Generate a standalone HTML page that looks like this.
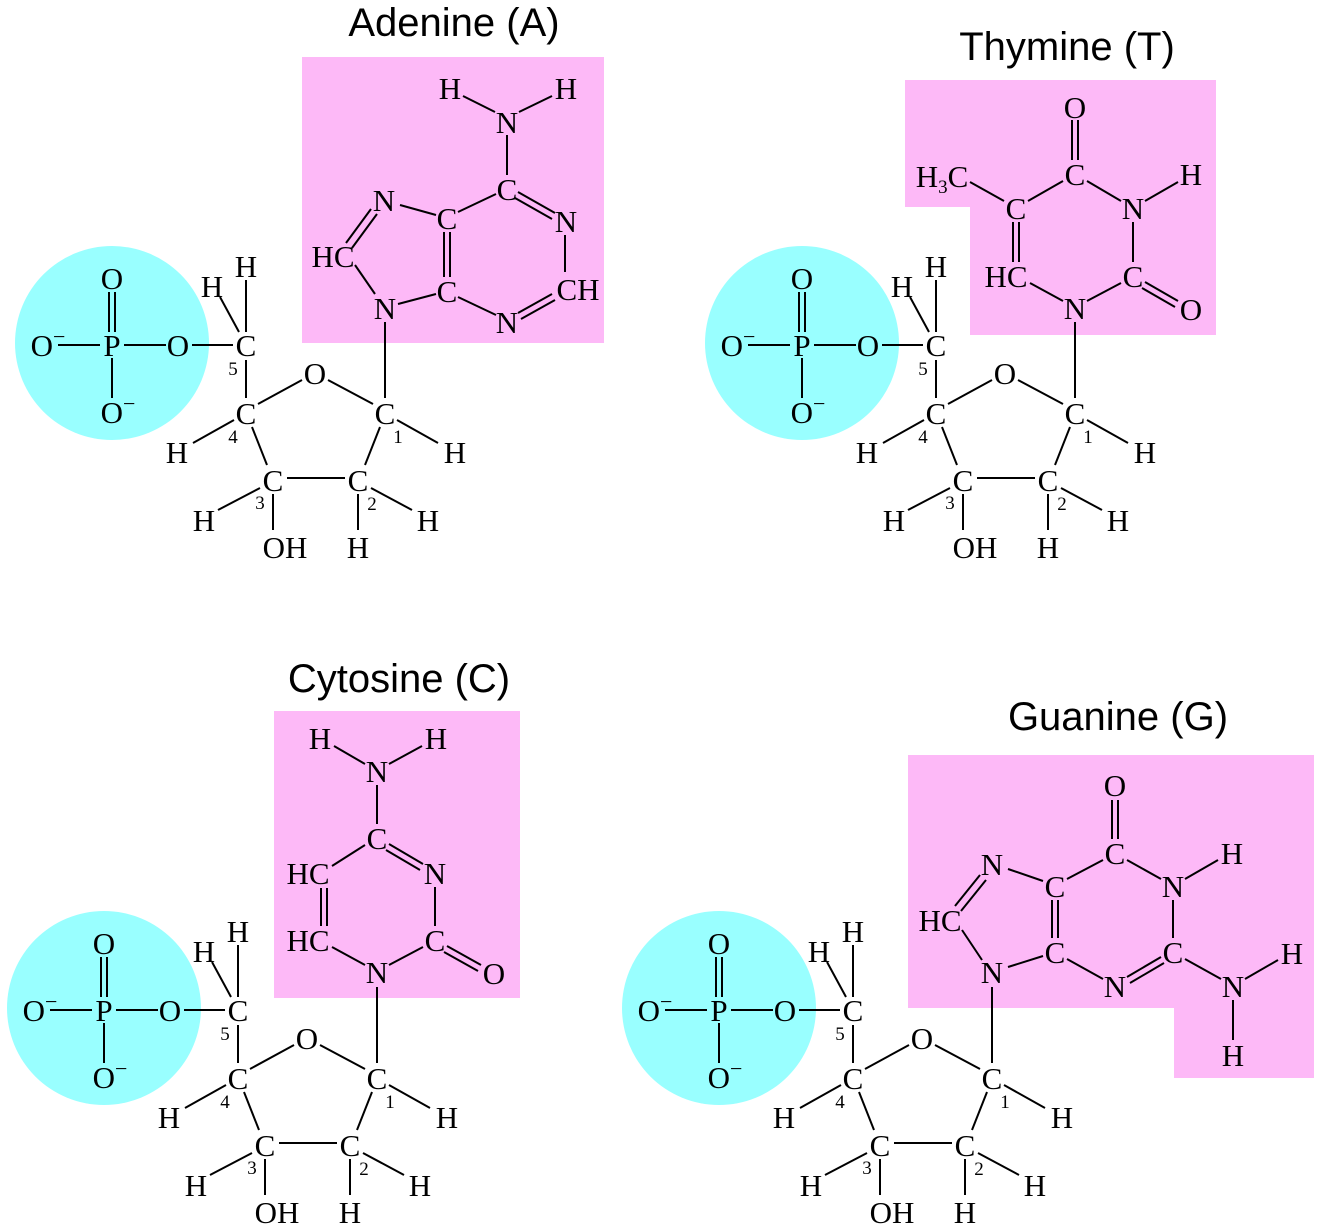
<!DOCTYPE html>
<html><head><meta charset="utf-8"><style>
html,body{margin:0;padding:0;background:#fff}
svg{display:block}
.a{font-family:"Liberation Serif",serif;font-size:31px;text-anchor:middle;fill:#000;transform:translateY(2px)}
.n{font-family:"Liberation Serif",serif;font-size:19px;text-anchor:middle;fill:#000;transform:translateY(1px)}
.t{font-family:"Liberation Sans",sans-serif;font-size:40px;text-anchor:middle;fill:#000}
line{stroke:#000;stroke-width:2}
</style></head><body>
<svg width="1320" height="1226" viewBox="0 0 1320 1226" xmlns="http://www.w3.org/2000/svg">
<rect x="302" y="57" width="302" height="286" fill="#fdb9f7"/>
<polygon points="905,80 1216,80 1216,335 970,335 970,207 905,207" fill="#fdb9f7"/>
<rect x="274" y="711" width="246" height="287" fill="#fdb9f7"/>
<polygon points="908,755 1314,755 1314,1078 1174,1078 1174,1008 908,1008" fill="#fdb9f7"/>

<text class="t" x="454" y="36">Adenine (A)</text>
<text class="t" x="1067" y="60">Thymine (T)</text>
<text class="t" x="399" y="692">Cytosine (C)</text>
<text class="t" x="1118" y="730">Guanine (G)</text>

<g>
<circle cx="112" cy="343" r="97" fill="#99ffff"/>
<line x1="58" y1="345" x2="100" y2="345"/><line x1="124" y1="345" x2="166" y2="345"/>
<line x1="109" y1="292" x2="109" y2="332"/><line x1="115" y1="292" x2="115" y2="332"/>
<line x1="112" y1="358" x2="112" y2="398"/><line x1="192" y1="345" x2="233" y2="345"/>
<line x1="246" y1="280" x2="246" y2="332"/><line x1="220" y1="297" x2="239" y2="332"/>
<line x1="246" y1="360" x2="246" y2="398"/><line x1="258" y1="404" x2="302" y2="380"/>
<line x1="328" y1="380" x2="373" y2="404"/><line x1="193" y1="443" x2="234" y2="420"/>
<line x1="252" y1="427" x2="267" y2="465"/><line x1="380" y1="427" x2="365" y2="465"/>
<line x1="397" y1="420" x2="438" y2="443"/><line x1="287" y1="478" x2="345" y2="478"/>
<line x1="218" y1="510" x2="260" y2="488"/><line x1="273" y1="494" x2="273" y2="530"/>
<line x1="371" y1="488" x2="412" y2="510"/><line x1="358" y1="494" x2="358" y2="530"/>
<text class="a" x="48" y="354">O<tspan font-size="22" dy="-12">−</tspan></text>
<text class="a" x="112" y="354">P</text><text class="a" x="178" y="354">O</text>
<text class="a" x="112" y="287">O</text>
<text class="a" x="118" y="421">O<tspan font-size="22" dy="-12">−</tspan></text>
<text class="a" x="246" y="354">C</text><text class="n" x="233" y="374">5</text>
<text class="a" x="246" y="275">H</text><text class="a" x="212" y="295">H</text>
<text class="a" x="315" y="382">O</text>
<text class="a" x="246" y="422">C</text><text class="n" x="233" y="442">4</text>
<text class="a" x="177" y="461">H</text>
<text class="a" x="385" y="422">C</text><text class="n" x="398" y="442">1</text>
<text class="a" x="455" y="461">H</text>
<text class="a" x="273" y="489">C</text><text class="n" x="260" y="508">3</text>
<text class="a" x="204" y="529">H</text><text class="a" x="285" y="556">OH</text>
<text class="a" x="358" y="489">C</text><text class="n" x="372" y="509">2</text>
<text class="a" x="428" y="529">H</text><text class="a" x="358" y="556">H</text>
</g>
<g transform="translate(690,0)">
<circle cx="112" cy="343" r="97" fill="#99ffff"/>
<line x1="58" y1="345" x2="100" y2="345"/><line x1="124" y1="345" x2="166" y2="345"/>
<line x1="109" y1="292" x2="109" y2="332"/><line x1="115" y1="292" x2="115" y2="332"/>
<line x1="112" y1="358" x2="112" y2="398"/><line x1="192" y1="345" x2="233" y2="345"/>
<line x1="246" y1="280" x2="246" y2="332"/><line x1="220" y1="297" x2="239" y2="332"/>
<line x1="246" y1="360" x2="246" y2="398"/><line x1="258" y1="404" x2="302" y2="380"/>
<line x1="328" y1="380" x2="373" y2="404"/><line x1="193" y1="443" x2="234" y2="420"/>
<line x1="252" y1="427" x2="267" y2="465"/><line x1="380" y1="427" x2="365" y2="465"/>
<line x1="397" y1="420" x2="438" y2="443"/><line x1="287" y1="478" x2="345" y2="478"/>
<line x1="218" y1="510" x2="260" y2="488"/><line x1="273" y1="494" x2="273" y2="530"/>
<line x1="371" y1="488" x2="412" y2="510"/><line x1="358" y1="494" x2="358" y2="530"/>
<text class="a" x="48" y="354">O<tspan font-size="22" dy="-12">−</tspan></text>
<text class="a" x="112" y="354">P</text><text class="a" x="178" y="354">O</text>
<text class="a" x="112" y="287">O</text>
<text class="a" x="118" y="421">O<tspan font-size="22" dy="-12">−</tspan></text>
<text class="a" x="246" y="354">C</text><text class="n" x="233" y="374">5</text>
<text class="a" x="246" y="275">H</text><text class="a" x="212" y="295">H</text>
<text class="a" x="315" y="382">O</text>
<text class="a" x="246" y="422">C</text><text class="n" x="233" y="442">4</text>
<text class="a" x="177" y="461">H</text>
<text class="a" x="385" y="422">C</text><text class="n" x="398" y="442">1</text>
<text class="a" x="455" y="461">H</text>
<text class="a" x="273" y="489">C</text><text class="n" x="260" y="508">3</text>
<text class="a" x="204" y="529">H</text><text class="a" x="285" y="556">OH</text>
<text class="a" x="358" y="489">C</text><text class="n" x="372" y="509">2</text>
<text class="a" x="428" y="529">H</text><text class="a" x="358" y="556">H</text>
</g>
<g transform="translate(-8,665)">
<circle cx="112" cy="343" r="97" fill="#99ffff"/>
<line x1="58" y1="345" x2="100" y2="345"/><line x1="124" y1="345" x2="166" y2="345"/>
<line x1="109" y1="292" x2="109" y2="332"/><line x1="115" y1="292" x2="115" y2="332"/>
<line x1="112" y1="358" x2="112" y2="398"/><line x1="192" y1="345" x2="233" y2="345"/>
<line x1="246" y1="280" x2="246" y2="332"/><line x1="220" y1="297" x2="239" y2="332"/>
<line x1="246" y1="360" x2="246" y2="398"/><line x1="258" y1="404" x2="302" y2="380"/>
<line x1="328" y1="380" x2="373" y2="404"/><line x1="193" y1="443" x2="234" y2="420"/>
<line x1="252" y1="427" x2="267" y2="465"/><line x1="380" y1="427" x2="365" y2="465"/>
<line x1="397" y1="420" x2="438" y2="443"/><line x1="287" y1="478" x2="345" y2="478"/>
<line x1="218" y1="510" x2="260" y2="488"/><line x1="273" y1="494" x2="273" y2="530"/>
<line x1="371" y1="488" x2="412" y2="510"/><line x1="358" y1="494" x2="358" y2="530"/>
<text class="a" x="48" y="354">O<tspan font-size="22" dy="-12">−</tspan></text>
<text class="a" x="112" y="354">P</text><text class="a" x="178" y="354">O</text>
<text class="a" x="112" y="287">O</text>
<text class="a" x="118" y="421">O<tspan font-size="22" dy="-12">−</tspan></text>
<text class="a" x="246" y="354">C</text><text class="n" x="233" y="374">5</text>
<text class="a" x="246" y="275">H</text><text class="a" x="212" y="295">H</text>
<text class="a" x="315" y="382">O</text>
<text class="a" x="246" y="422">C</text><text class="n" x="233" y="442">4</text>
<text class="a" x="177" y="461">H</text>
<text class="a" x="385" y="422">C</text><text class="n" x="398" y="442">1</text>
<text class="a" x="455" y="461">H</text>
<text class="a" x="273" y="489">C</text><text class="n" x="260" y="508">3</text>
<text class="a" x="204" y="529">H</text><text class="a" x="285" y="556">OH</text>
<text class="a" x="358" y="489">C</text><text class="n" x="372" y="509">2</text>
<text class="a" x="428" y="529">H</text><text class="a" x="358" y="556">H</text>
</g>
<g transform="translate(607,665)">
<circle cx="112" cy="343" r="97" fill="#99ffff"/>
<line x1="58" y1="345" x2="100" y2="345"/><line x1="124" y1="345" x2="166" y2="345"/>
<line x1="109" y1="292" x2="109" y2="332"/><line x1="115" y1="292" x2="115" y2="332"/>
<line x1="112" y1="358" x2="112" y2="398"/><line x1="192" y1="345" x2="233" y2="345"/>
<line x1="246" y1="280" x2="246" y2="332"/><line x1="220" y1="297" x2="239" y2="332"/>
<line x1="246" y1="360" x2="246" y2="398"/><line x1="258" y1="404" x2="302" y2="380"/>
<line x1="328" y1="380" x2="373" y2="404"/><line x1="193" y1="443" x2="234" y2="420"/>
<line x1="252" y1="427" x2="267" y2="465"/><line x1="380" y1="427" x2="365" y2="465"/>
<line x1="397" y1="420" x2="438" y2="443"/><line x1="287" y1="478" x2="345" y2="478"/>
<line x1="218" y1="510" x2="260" y2="488"/><line x1="273" y1="494" x2="273" y2="530"/>
<line x1="371" y1="488" x2="412" y2="510"/><line x1="358" y1="494" x2="358" y2="530"/>
<text class="a" x="48" y="354">O<tspan font-size="22" dy="-12">−</tspan></text>
<text class="a" x="112" y="354">P</text><text class="a" x="178" y="354">O</text>
<text class="a" x="112" y="287">O</text>
<text class="a" x="118" y="421">O<tspan font-size="22" dy="-12">−</tspan></text>
<text class="a" x="246" y="354">C</text><text class="n" x="233" y="374">5</text>
<text class="a" x="246" y="275">H</text><text class="a" x="212" y="295">H</text>
<text class="a" x="315" y="382">O</text>
<text class="a" x="246" y="422">C</text><text class="n" x="233" y="442">4</text>
<text class="a" x="177" y="461">H</text>
<text class="a" x="385" y="422">C</text><text class="n" x="398" y="442">1</text>
<text class="a" x="455" y="461">H</text>
<text class="a" x="273" y="489">C</text><text class="n" x="260" y="508">3</text>
<text class="a" x="204" y="529">H</text><text class="a" x="285" y="556">OH</text>
<text class="a" x="358" y="489">C</text><text class="n" x="372" y="509">2</text>
<text class="a" x="428" y="529">H</text><text class="a" x="358" y="556">H</text>
</g>

<!-- Adenine base -->
<line x1="385" y1="398" x2="385" y2="322"/>
<line x1="355" y1="265" x2="375" y2="294"/>
<line x1="346" y1="243" x2="371" y2="209"/><line x1="352" y1="248" x2="377" y2="214"/>
<line x1="400" y1="205" x2="436" y2="215"/>
<line x1="444" y1="232" x2="444" y2="277"/><line x1="450" y1="232" x2="450" y2="277"/>
<line x1="436" y1="294" x2="398" y2="304"/>
<line x1="458" y1="212" x2="496" y2="194"/>
<line x1="507" y1="175" x2="507" y2="135"/>
<line x1="495" y1="112" x2="463" y2="96"/><line x1="519" y1="112" x2="552" y2="96"/>
<line x1="518" y1="192" x2="555" y2="213"/><line x1="515" y1="198" x2="552" y2="219"/>
<line x1="565" y1="235" x2="565" y2="272"/>
<line x1="552" y1="294" x2="518" y2="313"/><line x1="555" y1="300" x2="521" y2="319"/>
<line x1="496" y1="315" x2="458" y2="297"/>
<text class="a" x="385" y="317">N</text>
<text class="a" x="333" y="265">HC</text>
<text class="a" x="384" y="209">N</text>
<text class="a" x="447" y="227">C</text>
<text class="a" x="447" y="300">C</text>
<text class="a" x="507" y="198">C</text>
<text class="a" x="566" y="230">N</text>
<text class="a" x="578" y="298">CH</text>
<text class="a" x="507" y="331">N</text>
<text class="a" x="507" y="131">N</text>
<text class="a" x="450" y="97">H</text>
<text class="a" x="566" y="97">H</text>

<!-- Thymine base -->
<line x1="1075" y1="398" x2="1075" y2="322"/>
<line x1="1063" y1="301" x2="1030" y2="283"/>
<line x1="1087" y1="301" x2="1121" y2="283"/>
<line x1="1145" y1="282" x2="1178" y2="301"/><line x1="1142" y1="288" x2="1175" y2="307"/>
<line x1="1133" y1="262" x2="1133" y2="222"/>
<line x1="1145" y1="201" x2="1178" y2="182"/>
<line x1="1121" y1="201" x2="1087" y2="181"/>
<line x1="1072" y1="160" x2="1072" y2="120"/><line x1="1078" y1="160" x2="1078" y2="120"/>
<line x1="1063" y1="181" x2="1028" y2="201"/>
<line x1="1013" y1="222" x2="1013" y2="262"/><line x1="1019" y1="222" x2="1019" y2="262"/>
<line x1="1004" y1="201" x2="970" y2="182"/>
<text class="a" x="1075" y="317">N</text>
<text class="a" x="1133" y="285">C</text>
<text class="a" x="1191" y="318">O</text>
<text class="a" x="1133" y="217">N</text>
<text class="a" x="1191" y="183">H</text>
<text class="a" x="1075" y="183">C</text>
<text class="a" x="1075" y="116">O</text>
<text class="a" x="1016" y="217">C</text>
<text class="a" x="942" y="185">H<tspan font-size="19" dy="6">3</tspan><tspan dy="-6">C</tspan></text>
<text class="a" x="1006" y="285">HC</text>

<!-- Cytosine base -->
<line x1="377" y1="1063" x2="377" y2="987"/>
<line x1="365" y1="965" x2="332" y2="947"/>
<line x1="389" y1="965" x2="423" y2="947"/>
<line x1="447" y1="946" x2="481" y2="965"/><line x1="444" y1="952" x2="478" y2="971"/>
<line x1="435" y1="926" x2="435" y2="887"/>
<line x1="423" y1="864" x2="389" y2="844"/><line x1="420" y1="870" x2="386" y2="850"/>
<line x1="365" y1="845" x2="332" y2="866"/>
<line x1="321" y1="888" x2="321" y2="926"/><line x1="327" y1="888" x2="327" y2="926"/>
<line x1="377" y1="824" x2="377" y2="785"/>
<line x1="365" y1="764" x2="334" y2="746"/><line x1="389" y1="764" x2="422" y2="746"/>
<text class="a" x="377" y="981">N</text>
<text class="a" x="435" y="949">C</text>
<text class="a" x="494" y="982">O</text>
<text class="a" x="435" y="882">N</text>
<text class="a" x="377" y="847">C</text>
<text class="a" x="377" y="780">N</text>
<text class="a" x="320" y="747">H</text>
<text class="a" x="436" y="747">H</text>
<text class="a" x="308" y="882">HC</text>
<text class="a" x="308" y="949">HC</text>

<!-- Guanine base -->
<line x1="992" y1="1063" x2="992" y2="987"/>
<line x1="982" y1="960" x2="962" y2="930"/>
<line x1="955" y1="906" x2="980" y2="875"/><line x1="961" y1="911" x2="986" y2="880"/>
<line x1="1008" y1="869" x2="1043" y2="881"/>
<line x1="1052" y1="900" x2="1052" y2="938"/><line x1="1058" y1="900" x2="1058" y2="938"/>
<line x1="1043" y1="956" x2="1008" y2="967"/>
<line x1="1067" y1="879" x2="1103" y2="860"/>
<line x1="1112" y1="839" x2="1112" y2="800"/><line x1="1118" y1="839" x2="1118" y2="800"/>
<line x1="1127" y1="860" x2="1161" y2="879"/>
<line x1="1185" y1="879" x2="1218" y2="860"/>
<line x1="1173" y1="900" x2="1173" y2="938"/>
<line x1="1161" y1="957" x2="1127" y2="977"/><line x1="1164" y1="963" x2="1130" y2="983"/>
<line x1="1103" y1="979" x2="1067" y2="959"/>
<line x1="1185" y1="959" x2="1221" y2="979"/>
<line x1="1245" y1="979" x2="1278" y2="960"/>
<line x1="1233" y1="1000" x2="1233" y2="1040"/>
<text class="a" x="992" y="981">N</text>
<text class="a" x="940" y="929">HC</text>
<text class="a" x="992" y="873">N</text>
<text class="a" x="1055" y="895">C</text>
<text class="a" x="1055" y="961">C</text>
<text class="a" x="1115" y="995">N</text>
<text class="a" x="1173" y="961">C</text>
<text class="a" x="1173" y="895">N</text>
<text class="a" x="1232" y="862">H</text>
<text class="a" x="1115" y="862">C</text>
<text class="a" x="1115" y="794">O</text>
<text class="a" x="1233" y="995">N</text>
<text class="a" x="1292" y="962">H</text>
<text class="a" x="1233" y="1064">H</text>
</svg>
</body></html>
